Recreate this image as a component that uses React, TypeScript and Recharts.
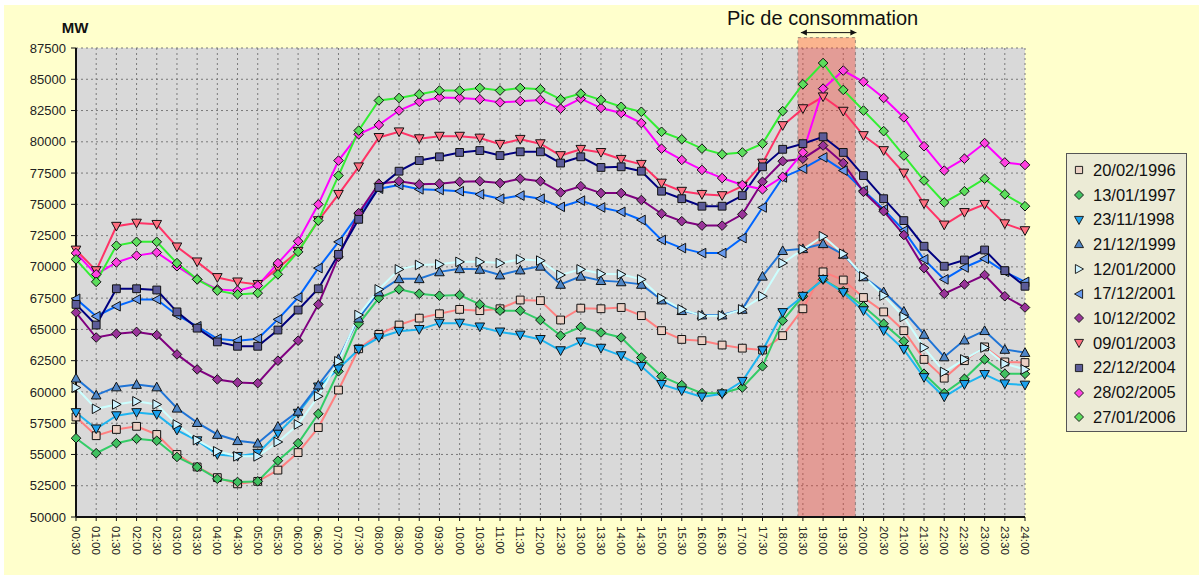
import React from "react";
import {
  LineChart,
  Line,
  XAxis,
  YAxis,
  CartesianGrid,
  ReferenceArea,
} from "recharts";

const times = [
  "00:30", "01:00", "01:30", "02:00", "02:30", "03:00", "03:30", "04:00",
  "04:30", "05:00", "05:30", "06:00", "06:30", "07:00", "07:30", "08:00",
  "08:30", "09:00", "09:30", "10:00", "10:30", "11:00", "11:30", "12:00",
  "12:30", "13:00", "13:30", "14:00", "14:30", "15:00", "15:30", "16:00",
  "16:30", "17:00", "17:30", "18:00", "18:30", "19:00", "19:30", "20:00",
  "20:30", "21:00", "21:30", "22:00", "22:30", "23:00", "23:30", "24:00",
];

const yTicks = [
  50000, 52500, 55000, 57500, 60000, 62500, 65000, 67500, 70000, 72500,
  75000, 77500, 80000, 82500, 85000, 87500,
];

const v1996 = [58000, 56500, 57000, 57250, 56600, 55000, 54000, 53150, 52650, 52850, 53750, 55150, 57150, 60150, 63450, 64600, 65350, 65900, 66250, 66600, 66500, 66650, 67350, 67300, 65750, 66700, 66650, 66750, 66100, 64900, 64200, 64100, 63750, 63500, 63350, 64500, 66650, 69600, 68950, 67550, 66400, 64900, 62600, 61100, 62500, 63600, 62400, 62350];
const v1997 = [56300, 55100, 55900, 56250, 56100, 54800, 54000, 53050, 52800, 52850, 54500, 55900, 58250, 61650, 65450, 67500, 68200, 67850, 67700, 67750, 67000, 66500, 66500, 65750, 64500, 65200, 64750, 64350, 62750, 61250, 60550, 59900, 59900, 60350, 62050, 65700, 67650, 69000, 68050, 66850, 65450, 64050, 61450, 59900, 61050, 62600, 61450, 61450];
const v1998 = [58350, 57050, 58100, 58350, 58200, 56950, 56100, 55000, 54850, 55100, 56700, 58300, 60400, 61850, 63400, 64350, 64850, 65000, 65500, 65500, 65200, 64800, 64550, 64200, 63300, 64000, 63500, 62900, 62050, 60600, 60100, 59600, 59850, 60850, 63300, 66350, 67650, 69000, 67950, 66500, 64900, 63400, 61150, 59600, 60600, 61400, 60650, 60550];
const v1999 = [61100, 59750, 60400, 60600, 60400, 58700, 57550, 56600, 56100, 55900, 57250, 58450, 60550, 62650, 65900, 68000, 69050, 69050, 69600, 69850, 69800, 69350, 69750, 70050, 68600, 69250, 68900, 68800, 68600, 67350, 66500, 66150, 66150, 66600, 69250, 71300, 71450, 71850, 71000, 69200, 68000, 66450, 64600, 62800, 64150, 64900, 63400, 63150];
const v2000 = [60350, 58650, 59000, 59250, 59000, 57400, 56150, 55250, 54850, 54850, 56000, 57400, 59650, 62450, 66150, 68200, 69800, 70150, 70200, 70400, 70400, 70300, 70600, 70500, 69350, 69800, 69450, 69400, 69000, 67500, 66600, 66100, 66100, 66600, 67650, 70300, 71400, 72450, 71050, 69250, 67700, 66000, 63550, 61600, 62600, 63550, 62250, 61800];
const v2001 = [67450, 66050, 66850, 67400, 67400, 66150, 65250, 64250, 64100, 64250, 65800, 67550, 69900, 72000, 74250, 76250, 76550, 76200, 76150, 76050, 75800, 75450, 75700, 75450, 74800, 75300, 74750, 74400, 73750, 72150, 71500, 71100, 71100, 72300, 74750, 77150, 77850, 78750, 77700, 76100, 74600, 72900, 70600, 69000, 69950, 70650, 69600, 68800];
const v2002 = [66350, 64350, 64650, 64800, 64550, 63000, 61800, 61000, 60750, 60700, 62500, 64100, 67000, 70800, 74300, 76650, 76850, 76600, 76650, 76800, 76850, 76700, 77050, 76850, 75950, 76450, 75900, 75900, 75350, 74250, 73650, 73300, 73300, 74200, 76800, 78450, 78650, 79700, 78300, 76000, 74450, 72550, 69900, 67850, 68600, 69350, 67650, 66750];
const v2003 = [71350, 69700, 73250, 73500, 73400, 71600, 70400, 69150, 68800, 68600, 69900, 71250, 73700, 75800, 78000, 80350, 80800, 80250, 80450, 80450, 80300, 79800, 80200, 79850, 78900, 79400, 79150, 78600, 78200, 76700, 76050, 75800, 75700, 76450, 78300, 81300, 82650, 83600, 82450, 80500, 79300, 77500, 75050, 73350, 74350, 75000, 73450, 72900];
const v2004 = [67000, 65350, 68250, 68250, 68150, 66400, 65100, 64000, 63650, 63650, 64950, 66550, 68250, 71000, 73800, 76350, 77650, 78500, 78800, 79150, 79300, 78900, 79200, 79200, 78300, 78800, 77950, 78000, 77650, 76050, 75450, 74850, 74850, 75700, 78000, 79400, 79850, 80400, 79150, 77300, 75450, 73700, 71650, 70050, 70550, 71350, 69700, 68450];
const v2005 = [71100, 69400, 70350, 70900, 71150, 70050, 69000, 68200, 68100, 68500, 70300, 72050, 75000, 78500, 80600, 81350, 82500, 83200, 83550, 83500, 83400, 83150, 83250, 83350, 82650, 83450, 82700, 82300, 81500, 79450, 78550, 77750, 77100, 76550, 76200, 77200, 79150, 84250, 85700, 84800, 83500, 81950, 79650, 77700, 78650, 79900, 78350, 78150];
const v2006 = [70600, 68800, 71700, 72000, 72000, 70300, 69000, 68100, 67800, 67900, 69400, 71200, 73700, 77300, 80900, 83300, 83500, 83800, 84100, 84100, 84300, 84100, 84300, 84200, 83400, 83850, 83350, 82800, 82400, 80800, 80200, 79450, 79000, 79150, 79850, 82450, 84600, 86300, 84150, 82500, 80850, 78900, 76900, 75150, 76050, 77050, 75800, 74850];

// peak window, in category units
const peakFrom = 35.75;
const peakTo = 38.6;

type Shape = "square" | "diamond" | "down" | "up" | "right" | "left";

const series: { key: string; name: string; values: number[]; shape: Shape; line: string; fill: string }[] = [
  { key: "s1996", name: "20/02/1996", values: v1996, shape: "square", line: "#FF8080", fill: "#EBD0C4" },
  { key: "s1997", name: "13/01/1997", values: v1997, shape: "diamond", line: "#33CC66", fill: "#40C060" },
  { key: "s1998", name: "23/11/1998", values: v1998, shape: "down", line: "#1EB4F0", fill: "#1AA0EC" },
  { key: "s1999", name: "21/12/1999", values: v1999, shape: "up", line: "#1F74D6", fill: "#4F86C6" },
  { key: "s2000", name: "12/01/2000", values: v2000, shape: "right", line: "#CCFFFF", fill: "#CCF2FF" },
  { key: "s2001", name: "17/12/2001", values: v2001, shape: "left", line: "#0066FF", fill: "#6699EE" },
  { key: "s2002", name: "10/12/2002", values: v2002, shape: "diamond", line: "#800080", fill: "#993399" },
  { key: "s2003", name: "09/01/2003", values: v2003, shape: "down", line: "#FF3366", fill: "#FF6F80" },
  { key: "s2004", name: "22/12/2004", values: v2004, shape: "square", line: "#000080", fill: "#5C5C99" },
  { key: "s2005", name: "28/02/2005", values: v2005, shape: "diamond", line: "#FF00FF", fill: "#FF40E0" },
  { key: "s2006", name: "27/01/2006", values: v2006, shape: "diamond", line: "#33EE33", fill: "#5CDD5C" },
];

const data = times.map((t, i) => {
  const row: Record<string, number | string> = { idx: i, time: t };
  series.forEach((s) => {
    row[s.key] = s.values[i];
  });
  return row;
});

const FONT = "'Liberation Sans', Arial, sans-serif";

function markerPath(shape: Shape, cx: number, cy: number, r: number) {
  switch (shape) {
    case "square":
      return `M${cx - r},${cy - r}h${2 * r}v${2 * r}h${-2 * r}Z`;
    case "diamond":
      return `M${cx},${cy - r - 0.9}L${cx + r + 0.9},${cy}L${cx},${cy + r + 0.9}L${cx - r - 0.9},${cy}Z`;
    case "down":
      return `M${cx - r - 0.9},${cy - r}L${cx + r + 0.9},${cy - r}L${cx},${cy + r + 0.9}Z`;
    case "up":
      return `M${cx - r - 0.9},${cy + r}L${cx + r + 0.9},${cy + r}L${cx},${cy - r - 0.9}Z`;
    case "right":
      return `M${cx - r},${cy - r - 0.9}L${cx + r + 0.9},${cy}L${cx - r},${cy + r + 0.9}Z`;
    case "left":
      return `M${cx + r},${cy - r - 0.9}L${cx - r - 0.9},${cy}L${cx + r},${cy + r + 0.9}Z`;
  }
}

const makeDot = (shape: Shape, fill: string, key: string) => (p: any) => {
  if (p.cx == null || p.cy == null) return <g key={`${key}-${p.index}`} />;
  return (
    <path
      key={`${key}-${p.index}`}
      d={markerPath(shape, p.cx, p.cy, 3.9)}
      fill={fill}
      stroke="#111"
      strokeWidth={1}
    />
  );
};

const XTick = (props: any) => {
  const { x, y, payload } = props;
  return (
    <text
      transform={`translate(${x},${y + 3}) rotate(90)`}
      textAnchor="start"
      dominantBaseline="central"
      fontSize={11.5}
      fontFamily={FONT}
      fill="#222"
    >
      {times[payload.value]}
    </text>
  );
};

const PeakLabel = (props: any) => {
  const vb = props.viewBox;
  if (!vb) return null;
  const cx = vb.x + vb.width / 2;
  const ay = vb.y - 5;
  const x1 = vb.x + 3;
  const x2 = vb.x + vb.width + 1;
  return (
    <g>
      <text x={cx - 4} y={vb.y - 13} textAnchor="middle" fontSize={20} fontFamily={FONT} fill="#111">
        Pic de consommation
      </text>
      <line x1={x1} y1={ay} x2={x2} y2={ay} stroke="#111" strokeWidth={1} />
      <path d={`M${x1},${ay}l6,-3v6Z`} fill="#111" />
      <path d={`M${x2},${ay}l-6,-3v6Z`} fill="#111" />
    </g>
  );
};

const MWLabel = (props: any) => {
  const vb = props.viewBox;
  if (!vb) return null;
  return (
    <text x={vb.x + vb.width - 1} y={vb.y - 15} textAnchor="middle" fontSize={15} fontWeight="bold" fontFamily={FONT} fill="#111">
      MW
    </text>
  );
};

function LegendBox() {
  return (
    <div
      style={{
        position: "absolute",
        left: 1066,
        top: 153,
        width: 121,
        height: 279,
        background: "#ECEBD6",
        border: "1px solid #555",
        boxSizing: "border-box",
        fontFamily: FONT,
        fontSize: 16.5,
        color: "#111",
        paddingTop: 4,
      }}
    >
      {series.map((s) => (
        <div key={s.key} style={{ display: "flex", alignItems: "center", height: 24.7 }}>
          <svg width={26} height={16} style={{ flex: "none" }}>
            <path d={markerPath(s.shape, 12, 8, 3.6)} fill={s.fill} stroke="#222" strokeWidth={1} />
          </svg>
          <span>{s.name}</span>
        </div>
      ))}
    </div>
  );
}

export default function App() {
  return (
    <div style={{ position: "absolute", left: 0, top: 0, width: 1204, height: 577, background: "#fff" }}>
      <div style={{ position: "absolute", left: 4, top: 5, width: 1195, height: 570, background: "#FFFFCC" }} />
      <div style={{ position: "absolute", left: 0, top: 0 }}>
        <LineChart width={1204} height={577} data={data} margin={{ top: 48, right: 179, left: 0, bottom: 0 }}>
          <CartesianGrid fill="#D9D9D9" fillOpacity={1} stroke="#7A7A7A" strokeDasharray="2 3" />
          <XAxis
            dataKey="idx"
            type="number"
            domain={[0, 47]}
            ticks={times.map((_, i) => i)}
            interval={0}
            height={60}
            tick={<XTick />}
            tickSize={4}
            axisLine={{ stroke: "#111", strokeWidth: 2 }}
            tickLine={{ stroke: "#111" }}
          />
          <YAxis
            width={76}
            domain={[50000, 87500]}
            ticks={yTicks}
            interval={0}
            tickSize={5}
            tickMargin={5}
            tick={{ fontSize: 13, fontFamily: FONT, fill: "#222" }}
            axisLine={{ stroke: "#111", strokeWidth: 2 }}
            tickLine={{ stroke: "#111" }}
            label={<MWLabel />}
          />
          {series.map((s) => (
            <Line
              key={s.key}
              type="linear"
              dataKey={s.key}
              name={s.name}
              stroke={s.line}
              strokeWidth={2}
              dot={makeDot(s.shape, s.fill, s.key)}
              activeDot={false}
              isAnimationActive={false}
            />
          ))}
          <ReferenceArea
            x1={peakFrom}
            x2={peakTo}
            y1={50000}
            y2={88330}
            ifOverflow="visible"
            fill="#F53A2A"
            fillOpacity={0.38}
            stroke="#555"
            strokeOpacity={0.6}
            strokeDasharray="3 3"
            label={<PeakLabel />}
          />
        </LineChart>
      </div>
      <LegendBox />
    </div>
  );
}
